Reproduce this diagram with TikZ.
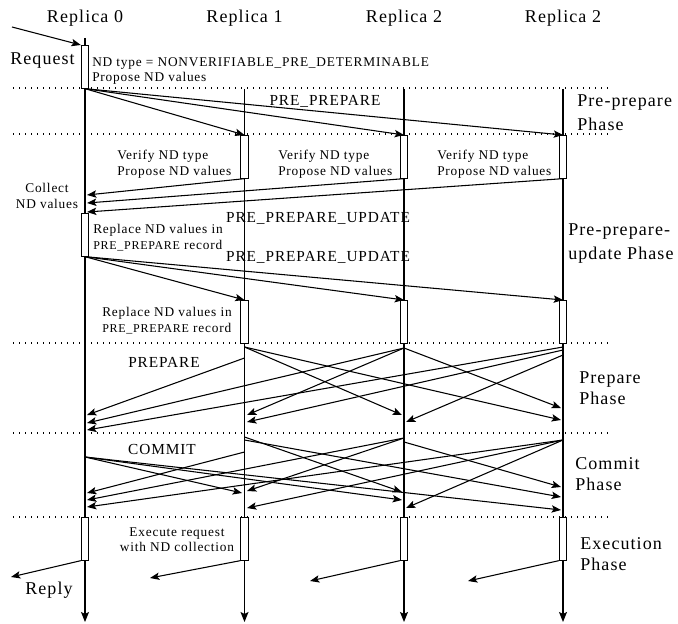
\documentclass[tikz,border=0pt]{standalone}
\usepackage{fontspec}
\setmainfont{Liberation Serif}[LetterSpace=6]
\usepackage{tikz}
\usetikzlibrary{arrows.meta}
\newcommand\headfont{\fontsize{13.5pt}{15.75pt}\selectfont}
\newcommand\notefont{\fontsize{10pt}{11.8pt}\selectfont}
\newcommand\capsfont{\fontsize{9pt}{11.8pt}\selectfont}
\newcommand\msgfont{\fontsize{11.5pt}{13pt}\selectfont}
\tikzset{
  lifeline/.style={line width=0.9pt, -{Stealth[length=7.5pt,width=6pt,inset=1.5pt]}},
  actbox/.style={draw, fill=white, line width=0.75pt, minimum width=5.5pt,
                 minimum height=32pt, inner sep=0pt, anchor=north},
  msg/.style={line width=0.8pt, -{Stealth[length=7pt,width=5.5pt,inset=1.5pt]}},
  phaseline/.style={line width=1pt, dash pattern=on 1pt off 3.5pt},
  note/.style={font=\notefont, inner sep=0pt, align=left, anchor=north west},
  phase/.style={font=\headfont, inner sep=0pt, align=left, anchor=north west},
  msglabel/.style={font=\msgfont, inner sep=0pt}
}

\begin{document}
\begin{tikzpicture}[x=0.75pt,y=-0.75pt]
  \useasboundingbox (0,0) rectangle (678,624);

  % phase separators
  \foreach \y in {88,134,343,433,517}
    \draw[phaseline] (13,\y) -- (613,\y);

  % replicas and their lifelines
  \foreach \i/\x/\lbl in {0/85/0,1/244.5/1,2/404/2,3/563/2} {
    \node[font=\headfont, inner sep=0pt, anchor=north] (head\i) at (\x,10) {Replica \lbl};
    \coordinate (top\i) at (\x,89);
    \coordinate (end\i) at (\x,622);
  }
  \coordinate (top0) at (85,38);
  \foreach \i in {0,1,2,3}
    \draw[lifeline] (top\i) -- (end\i);

  % activation boxes
  \node[actbox] (req0) at (85,45) {};
  \node[actbox] (up0) at (85,213) {};
  \foreach \i/\x in {1/244.5,2/404,3/563} {
    \node[actbox] (vf\i) at (\x,135) {};
    \node[actbox] (rp\i) at (\x,300) {};
  }
  \foreach \i/\x in {0/85,1/244.5,2/404,3/563}
    \node[actbox] (ex\i) at (\x,517) {};

  % request and pre-prepare
  \coordinate (client) at (12,27);
  \draw[msg] (client) -- (req0.north west);
  \foreach \i in {1,2,3}
    \draw[msg] (req0.south) -- (vf\i.north);

  % proposed values back to replica 0
  \coordinate (col1) at (87,195);
  \coordinate (col2) at (87,203);
  \coordinate (col3) at (87,212);
  \foreach \i in {1,2,3}
    \draw[msg] (vf\i.south) -- (col\i);

  % pre-prepare-update
  \foreach \i in {1,2,3}
    \draw[msg] (up0.south) -- (rp\i.north);

  % prepare
  \foreach \n/\sx/\sy/\tx/\ty in {1/244.5/347/402/415, 2/244.5/347/561/420,
      3/244.5/358/87/415, 4/404/348/561/408, 5/404/348/247/415,
      6/404/348/87/423, 7/563/355/406/422, 8/563/350/247/422, 9/563/347/87/430} {
    \coordinate (ps\n) at (\sx,\sy);
    \coordinate (pt\n) at (\tx,\ty);
    \draw[msg] (ps\n) -- (pt\n);
  }

  % commit
  \foreach \n/\sx/\sy/\tx/\ty in {1/85/457/242/493, 2/85/457/402/500,
      3/85/457/561/510, 4/244.5/452/87/493, 5/244.5/437/402/492,
      6/244.5/440/561/497, 7/404/438/87/500, 8/404/438/247/491,
      9/404/442/561/487, 10/563/440/87/507, 11/563/440/247/508, 12/563/440/406/508} {
    \coordinate (cs\n) at (\sx,\sy);
    \coordinate (ct\n) at (\tx,\ty);
    \draw[msg] (cs\n) -- (ct\n);
  }

  % replies
  \coordinate (rep0) at (11,577);
  \coordinate (rep1) at (150,578);
  \coordinate (rep2) at (310,581);
  \coordinate (rep3) at (468,581);
  \foreach \i in {0,1,2,3}
    \draw[msg] (ex\i.south west) -- (rep\i);

  % texts
  \node[font=\headfont, inner sep=0pt, anchor=north west] (reqtxt) at (10,52) {Request};
  \node[note] (ndtype) at (92,57) {ND type = NONVERIFIABLE\_PRE\_DETERMINABLE\\Propose ND values};
  \node[msglabel] (pplbl) at (325,101) {PRE\_PREPARE};
  \node[phase] (ph1) at (577,94) {Pre-prepare\\[2.5pt]Phase};
  \foreach \i/\x in {1/117,2/278,3/437}
    \node[note] (verify\i) at (\x,150) {Verify ND type\\Propose ND values};
  \node[note, align=center, anchor=north] (collect) at (47,183) {Collect\\ND values};
  \node[note] (replace0) at (93,224) {Replace ND values in\\{\capsfont PRE\_PREPARE} record};
  \node[msglabel] (ppu1) at (318,218) {PRE\_PREPARE\_UPDATE};
  \node[msglabel] (ppu2) at (318,257) {PRE\_PREPARE\_UPDATE};
  \node[phase] (ph2) at (568,223) {Pre-prepare-\\[2.5pt]update Phase};
  \node[note] (replace1) at (102,307) {Replace ND values in\\{\capsfont PRE\_PREPARE} record};
  \node[msglabel] (preplbl) at (164,362) {PREPARE};
  \node[phase] (ph3) at (579,371) {Prepare\\Phase};
  \node[msglabel] (commlbl) at (162,449) {COMMIT};
  \node[phase] (ph4) at (575,457) {Commit\\Phase};
  \node[note, align=center, anchor=north] (exec) at (177,527) {Execute request\\with ND collection};
  \node[phase] (ph5) at (580,537) {Execution\\Phase};
  \node[font=\headfont, inner sep=0pt, anchor=north west] (replytxt) at (25,582) {Reply};
\end{tikzpicture}
\end{document}
